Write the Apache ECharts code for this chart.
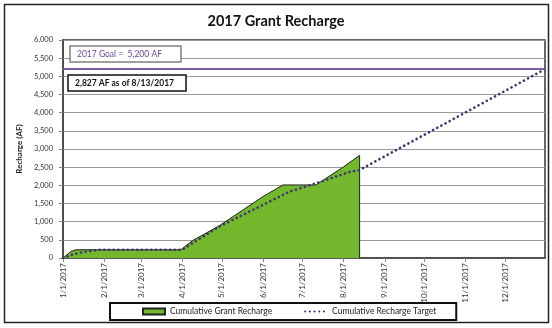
<!DOCTYPE html>
<html>
<head>
<meta charset="utf-8">
<script src="https://cdn.jsdelivr.net/npm/echarts@6/dist/echarts.min.js"></script>
<style>
  html, body { margin: 0; padding: 0; background: #fff; }
  #chart { width: 552px; height: 328px; }
</style>
</head>
<body>
<div id="chart"></div>
<script>
// ---- data ----
const rechargeDates = ['2017-01-01','2017-01-07','2017-01-11','2017-03-31','2017-04-09','2017-04-29','2017-06-01','2017-06-16','2017-07-11','2017-08-01','2017-08-13','2017-08-13'];
const rechargeValues = [0, 180, 227, 227, 482, 886, 1689, 2010, 2010, 2512, 2827, 0];

const targetDates = ['2017-01-01','2017-01-08','2017-01-16','2017-01-29','2017-04-01','2017-04-09','2017-04-29','2017-06-01','2017-06-21','2017-07-11','2017-08-06','2017-08-13','2017-12-31'];
const targetValues = [0, 90, 164, 227, 227, 411, 866, 1461, 1826, 2056, 2375, 2421, 5200];

const goalValue = 5200;
const monthTicks = ['2017-01-01','2017-02-01','2017-03-01','2017-04-01','2017-05-01','2017-06-01','2017-07-01','2017-08-01','2017-09-01','2017-10-01','2017-11-01','2017-12-01'];
const axisStart = '2017-01-01';
const axisEnd = '2017-12-31';

const titleText = '2017 Grant Recharge';
const yAxisTitle = 'Recharge (AF)';
const seriesNames = ['Cumulative Grant Recharge', 'Cumulative Recharge Target'];
const goalLabel = '2017 Goal =  5,200 AF';
const statusLabel = '2,827 AF as of 8/13/2017';

// ---- helpers ----
function ts(s) { const p = s.split('-').map(Number); return Date.UTC(p[0], p[1] - 1, p[2]); }
function pairs(dates, vals) { return dates.map((d, i) => [ts(d), vals[i]]); }

const FONT = 'Lato, "Open Sans", sans-serif';
const chart = echarts.init(document.getElementById('chart'), null, { renderer: 'canvas' });

chart.setOption({
  animation: false,
  backgroundColor: '#fff',
  textStyle: { fontFamily: FONT },
  title: {
    text: titleText, left: 'center', top: 9,
    textStyle: { fontFamily: FONT, fontSize: 14.5, fontWeight: 'bold', color: '#111' }
  },
  grid: {
    left: 63, right: 7, top: 40, bottom: 70,
    show: true, borderColor: '#333', borderWidth: 1.5, backgroundColor: 'transparent'
  },
  legend: {
    left: 110, top: 303,
    padding: [4, 20, 4, 32],
    itemGap: 32, itemWidth: 22, itemHeight: 6,
    borderColor: '#111', borderWidth: 2, backgroundColor: '#fff',
    textStyle: { fontFamily: FONT, fontSize: 8.5, color: '#222' },
    data: [
      { name: seriesNames[0], icon: 'rect' },
      { name: seriesNames[1], itemStyle: { opacity: 0 } }
    ]
  },
  xAxis: {
    type: 'value',
    min: ts(axisStart), max: ts(axisEnd),
    axisLine: { show: true, lineStyle: { color: '#444', width: 1.5 } },
    axisTick: { show: true, length: 4, lineStyle: { color: '#888' }, customValues: monthTicks.map(ts) },
    axisLabel: {
      customValues: monthTicks.map(ts),
      rotate: 90, margin: 5, fontSize: 8, color: '#333', fontFamily: FONT,
      formatter: function (v) { const d = new Date(v); return (d.getUTCMonth() + 1) + '/' + d.getUTCDate() + '/' + d.getUTCFullYear(); }
    },
    splitLine: { show: false }
  },
  yAxis: {
    type: 'value', min: 0, max: 6000, interval: 500,
    name: yAxisTitle, nameLocation: 'middle', nameGap: 39, nameRotate: 90,
    nameTextStyle: { fontFamily: FONT, fontSize: 8, fontWeight: 'bold', color: '#222' },
    axisLine: { show: true, lineStyle: { color: '#444', width: 1.5 } },
    axisTick: { show: true, length: 4, lineStyle: { color: '#888' } },
    axisLabel: {
      margin: 10, fontSize: 7.5, color: '#333', fontFamily: FONT,
      formatter: function (v) { return v.toLocaleString('en-US'); }
    },
    splitLine: { show: true, lineStyle: { color: '#9a9a9a', width: 1 } }
  },
  series: [
    {
      name: seriesNames[0], type: 'line', data: pairs(rechargeDates, rechargeValues),
      symbol: 'none', z: 2,
      itemStyle: { color: '#72b72c', borderColor: '#222', borderWidth: 1 },
      lineStyle: { color: '#1e1e1e', width: 1 },
      areaStyle: { color: '#72b72c', opacity: 1 }
    },
    {
      name: seriesNames[1], type: 'line', data: pairs(targetDates, targetValues),
      symbol: 'none', z: 4,
      itemStyle: { color: '#3d3473' },
      lineStyle: { color: '#3d3473', width: 2.6, type: [0.1, 4.6], cap: 'round' },
      markLine: {
        silent: true, symbol: 'none', animation: false,
        label: { show: false },
        lineStyle: { color: '#7b5ca8', width: 2, type: 'solid' },
        data: [{ yAxis: goalValue }]
      }
    }
  ],
  graphic: [
    { type: 'rect', shape: { x: 4.5, y: 4.5, width: 544, height: 318 }, style: { fill: 'none', stroke: '#222', lineWidth: 1.5 }, silent: true, z: 0 },
    { type: 'rect', shape: { x: 70, y: 46, width: 111, height: 16 }, style: { fill: '#fff', stroke: '#808080', lineWidth: 1.5 }, z: 10 },
    { type: 'text', x: 77, y: 54, style: { text: goalLabel, fill: '#6a4a98', font: '8.5px ' + FONT, verticalAlign: 'middle' }, z: 11 },
    { type: 'rect', shape: { x: 68, y: 75, width: 118, height: 16 }, style: { fill: '#fff', stroke: '#111', lineWidth: 1.5 }, z: 10 },
    { type: 'text', x: 75, y: 83, style: { text: statusLabel, fill: '#111', font: 'bold 8.5px ' + FONT, verticalAlign: 'middle' }, z: 11 }
  ]
});
</script>
</body>
</html>
